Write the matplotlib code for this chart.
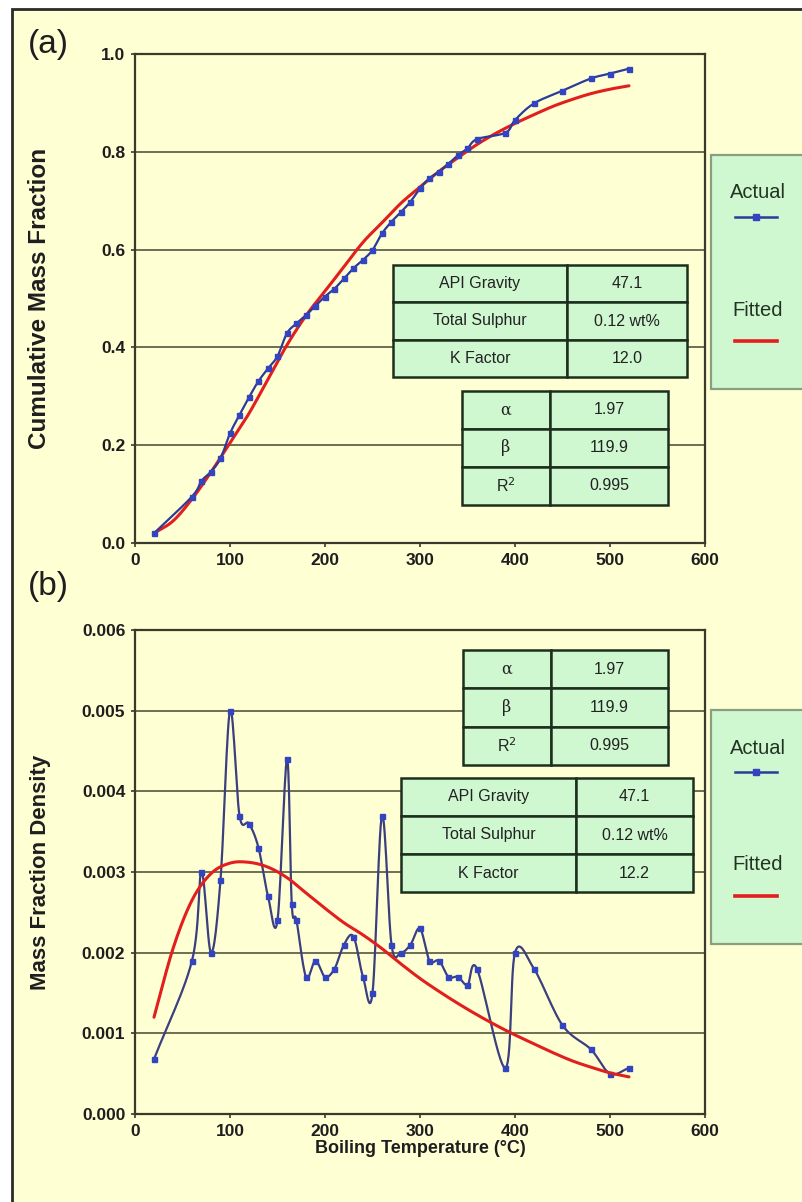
import numpy as np
import matplotlib
matplotlib.use("Agg")
import matplotlib.pyplot as plt
from matplotlib.patches import Rectangle
from matplotlib.lines import Line2D

plt.rcParams['font.family'] = ['Liberation Sans', 'DejaVu Sans']

# ---------------- data ----------------
cum_x = [20, 60, 70, 80, 90, 100, 110, 120, 130, 140, 150, 160, 170, 180, 190, 200,
         210, 220, 230, 240, 250, 260, 270, 280, 290, 300, 310, 320, 330, 340, 350,
         360, 390, 400, 420, 450, 480, 500, 520]
cum_actual = [0.02, 0.095, 0.127, 0.146, 0.173, 0.224, 0.262, 0.298, 0.331, 0.357,
              0.382, 0.429, 0.449, 0.466, 0.485, 0.504, 0.52, 0.541, 0.562, 0.579,
              0.599, 0.633, 0.657, 0.677, 0.698, 0.725, 0.746, 0.759, 0.776, 0.793,
              0.807, 0.826, 0.839, 0.865, 0.899, 0.925, 0.95, 0.96, 0.97]

fit_x = [20, 40, 60, 80, 100, 120, 140, 160, 180, 200, 220, 240, 260, 280, 300, 320,
         340, 360, 380, 400, 420, 440, 460, 480, 500, 520]
cum_fitted = [0.020, 0.045, 0.090, 0.145, 0.205, 0.265, 0.335, 0.405, 0.465, 0.515,
              0.565, 0.615, 0.655, 0.695, 0.728, 0.760, 0.788, 0.815, 0.838, 0.858,
              0.876, 0.893, 0.907, 0.919, 0.928, 0.935]

den_x = [20, 60, 70, 80, 90, 100, 110, 120, 130, 140, 150, 160, 165, 170, 180, 190,
         200, 210, 220, 230, 240, 250, 260, 270, 280, 290, 300, 310, 320, 330, 340,
         350, 360, 390, 400, 420, 450, 480, 500, 520]
den_actual = [0.00068, 0.0019, 0.0030, 0.0020, 0.0029, 0.0050, 0.0037, 0.0036, 0.0033,
              0.0027, 0.0024, 0.0044, 0.0026, 0.0024, 0.0017, 0.0019, 0.0017, 0.0018,
              0.0021, 0.0022, 0.0017, 0.0015, 0.0037, 0.0021, 0.0020, 0.0021, 0.0023,
              0.0019, 0.0019, 0.0017, 0.0017, 0.0016, 0.0018, 0.00057, 0.0020, 0.0018,
              0.0011, 0.0008, 0.0005, 0.00057]
den_fitted = [0.00120, 0.00205, 0.00265, 0.00298, 0.00311, 0.00312, 0.00306, 0.00293,
              0.00274, 0.00255, 0.00237, 0.00222, 0.00205, 0.00186, 0.00168, 0.00152,
              0.00137, 0.00123, 0.00110, 0.00098, 0.00087, 0.00076, 0.00066, 0.00058,
              0.00051, 0.00046]

props_a = [["API Gravity", "47.1"], ["Total Sulphur", "0.12 wt%"], ["K Factor", "12.0"]]
props_b = [["API Gravity", "47.1"], ["Total Sulphur", "0.12 wt%"], ["K Factor", "12.2"]]
params = [["α", "1.97"], ["β", "119.9"], ["R$^2$", "0.995"]]

x_ticks = [0, 100, 200, 300, 400, 500, 600]
ya_ticks = [0.0, 0.2, 0.4, 0.6, 0.8, 1.0]
yb_ticks = [0.000, 0.001, 0.002, 0.003, 0.004, 0.005, 0.006]

# ---------------- styling ----------------
W, H = 803, 1202
BG = '#FFFFD4'
GREEN = '#CFF7D0'
BLUE_LINE = '#2C3A9A'
BLUE_MARK = '#3344C0'
RED = '#E21E1E'
GRID = '#55553F'
TXT = '#1E1E1E'


def fx(x):
    return x / W


def fy(y):
    return 1 - y / H


fig = plt.figure(figsize=(W / 100, H / 100), dpi=100, facecolor='white')
fig.patches.append(Rectangle((fx(12), fy(1215)), fx(820 - 12), (1215 - 9) / H,
                             transform=fig.transFigure, facecolor=BG,
                             edgecolor='#2a2a2a', linewidth=2.0, zorder=-5))


def smooth(ax, x, y, n=14):
    pts = ax.transData.transform(np.column_stack([x, y]))
    P = np.vstack([2 * pts[0] - pts[1], pts, 2 * pts[-1] - pts[-2]])
    out = []
    t = np.linspace(0, 1, n, endpoint=False)[:, None]
    for i in range(1, len(P) - 2):
        p0, p1, p2, p3 = P[i - 1], P[i], P[i + 1], P[i + 2]
        seg = 0.5 * ((2 * p1) + (-p0 + p2) * t + (2 * p0 - 5 * p1 + 4 * p2 - p3) * t ** 2
                     + (-p0 + 3 * p1 - 3 * p2 + p3) * t ** 3)
        out.append(seg)
    out.append(P[-2][None, :])
    d = ax.transData.inverted().transform(np.vstack(out))
    return d[:, 0], d[:, 1]


def make_axes(top, bottom):
    ax = fig.add_axes([fx(135), fy(bottom), (705 - 135) / W, (bottom - top) / H])
    ax.set_facecolor(BG)
    for s in ax.spines.values():
        s.set_color('#3a3a2a')
        s.set_linewidth(1.6)
    ax.set_xlim(0, 600)
    ax.set_xticks(x_ticks)
    ax.yaxis.grid(True, color=GRID, linewidth=1.2)
    ax.set_axisbelow(True)
    ax.tick_params(axis='both', direction='out', length=3, width=1.2, color='#3a3a2a',
                   labelsize=12.5, labelcolor=TXT, pad=4)
    return ax


def add_table(ax, rows, bbox, colw, greek=False):
    tb = ax.table(cellText=rows, cellLoc='center', bbox=bbox, colWidths=colw)
    tb.auto_set_font_size(False)
    tb.set_fontsize(11.5)
    tb.set_zorder(5)
    for (r, c), cell in tb.get_celld().items():
        cell.set_facecolor(GREEN)
        cell.set_edgecolor('#1d2e1d')
        cell.set_linewidth(1.8)
        cell.get_text().set_color('#222222')
        if greek and c == 0 and r in (0, 1):
            cell.get_text().set_fontfamily('DejaVu Serif')
    return tb


def legend_box(top):
    fig.patches.append(Rectangle((fx(711), fy(top + 234)), fx(120), 234 / H,
                                 transform=fig.transFigure, facecolor=GREEN,
                                 edgecolor='#8d9d80', linewidth=1.6, zorder=1))
    fig.text(fx(758), fy(top + 38), "Actual", ha='center', va='center', fontsize=14.5,
             color='#233323')
    fig.lines.append(Line2D([fx(735), fx(777)], [fy(top + 62)] * 2, transform=fig.transFigure,
                            color=BLUE_LINE, lw=1.8, zorder=2))
    fig.lines.append(Line2D([fx(756)], [fy(top + 62)], transform=fig.transFigure,
                            marker='s', ms=4, color=BLUE_MARK, zorder=3))
    fig.text(fx(758), fy(top + 155), "Fitted", ha='center', va='center', fontsize=14.5,
             color='#233323')
    fig.lines.append(Line2D([fx(735), fx(777)], [fy(top + 186)] * 2, transform=fig.transFigure,
                            color=RED, lw=2.6, zorder=2))


# ---------------- panel (a) ----------------
axa = make_axes(54, 543)
axa.set_ylim(0, 1.0)
axa.set_yticks(ya_ticks)
axa.set_yticklabels([f"{v:.1f}" for v in ya_ticks], fontweight='bold')
axa.set_xticklabels([str(v) for v in x_ticks], fontweight='bold')
sx, sy = smooth(axa, fit_x, cum_fitted)
axa.plot(sx, sy, color=RED, lw=2.2, zorder=3, solid_capstyle='round')
sx, sy = smooth(axa, cum_x, cum_actual, n=6)
axa.plot(sx, sy, color=BLUE_LINE, lw=1.6, zorder=4)
axa.plot(cum_x, cum_actual, ls='none', marker='s', ms=3.6, color=BLUE_MARK, zorder=4)
axa.set_ylabel("Cumulative Mass Fraction", fontsize=17.5, fontweight='bold', color=TXT)
axa.yaxis.set_label_coords(-0.148, 0.5)
add_table(axa, props_a, [258 / 570, 166 / 489, 294 / 570, 112 / 489], [0.592, 0.408])
add_table(axa, params, [327 / 570, 38 / 489, 206 / 570, 114 / 489], [0.427, 0.573], greek=True)
fig.text(fx(28), fy(45), "(a)", fontsize=24, ha='left', va='center', color=TXT)

# ---------------- panel (b) ----------------
axb = make_axes(630, 1114)
axb.set_ylim(0, 0.006)
axb.set_yticks(yb_ticks)
axb.set_yticklabels([f"{v:.3f}" for v in yb_ticks], fontweight='bold')
axb.set_xticklabels([str(v) for v in x_ticks], fontweight='bold')
sx, sy = smooth(axb, den_x, den_actual)
axb.plot(sx, sy, color='#3b3f7e', lw=1.6, zorder=4)
axb.plot(den_x, den_actual, ls='none', marker='s', ms=3.6, color=BLUE_MARK, zorder=4)
sx, sy = smooth(axb, fit_x, den_fitted)
axb.plot(sx, sy, color=RED, lw=2.2, zorder=5, solid_capstyle='round')
axb.set_ylabel("Mass Fraction Density", fontsize=16, fontweight='bold', color=TXT)
axb.yaxis.set_label_coords(-0.148, 0.5)
axb.set_xlabel("Boiling Temperature (°C)", fontsize=13, fontweight='bold', color=TXT,
               labelpad=1)
add_table(axb, params, [328 / 570, 349 / 484, 205 / 570, 115 / 484], [0.429, 0.571], greek=True)
add_table(axb, props_b, [266 / 570, 222 / 484, 292 / 570, 114 / 484], [0.599, 0.401])
fig.text(fx(28), fy(587), "(b)", fontsize=24, ha='left', va='center', color=TXT)

legend_box(155)
legend_box(710)

fig.savefig("out.png", dpi=100, facecolor='white')
